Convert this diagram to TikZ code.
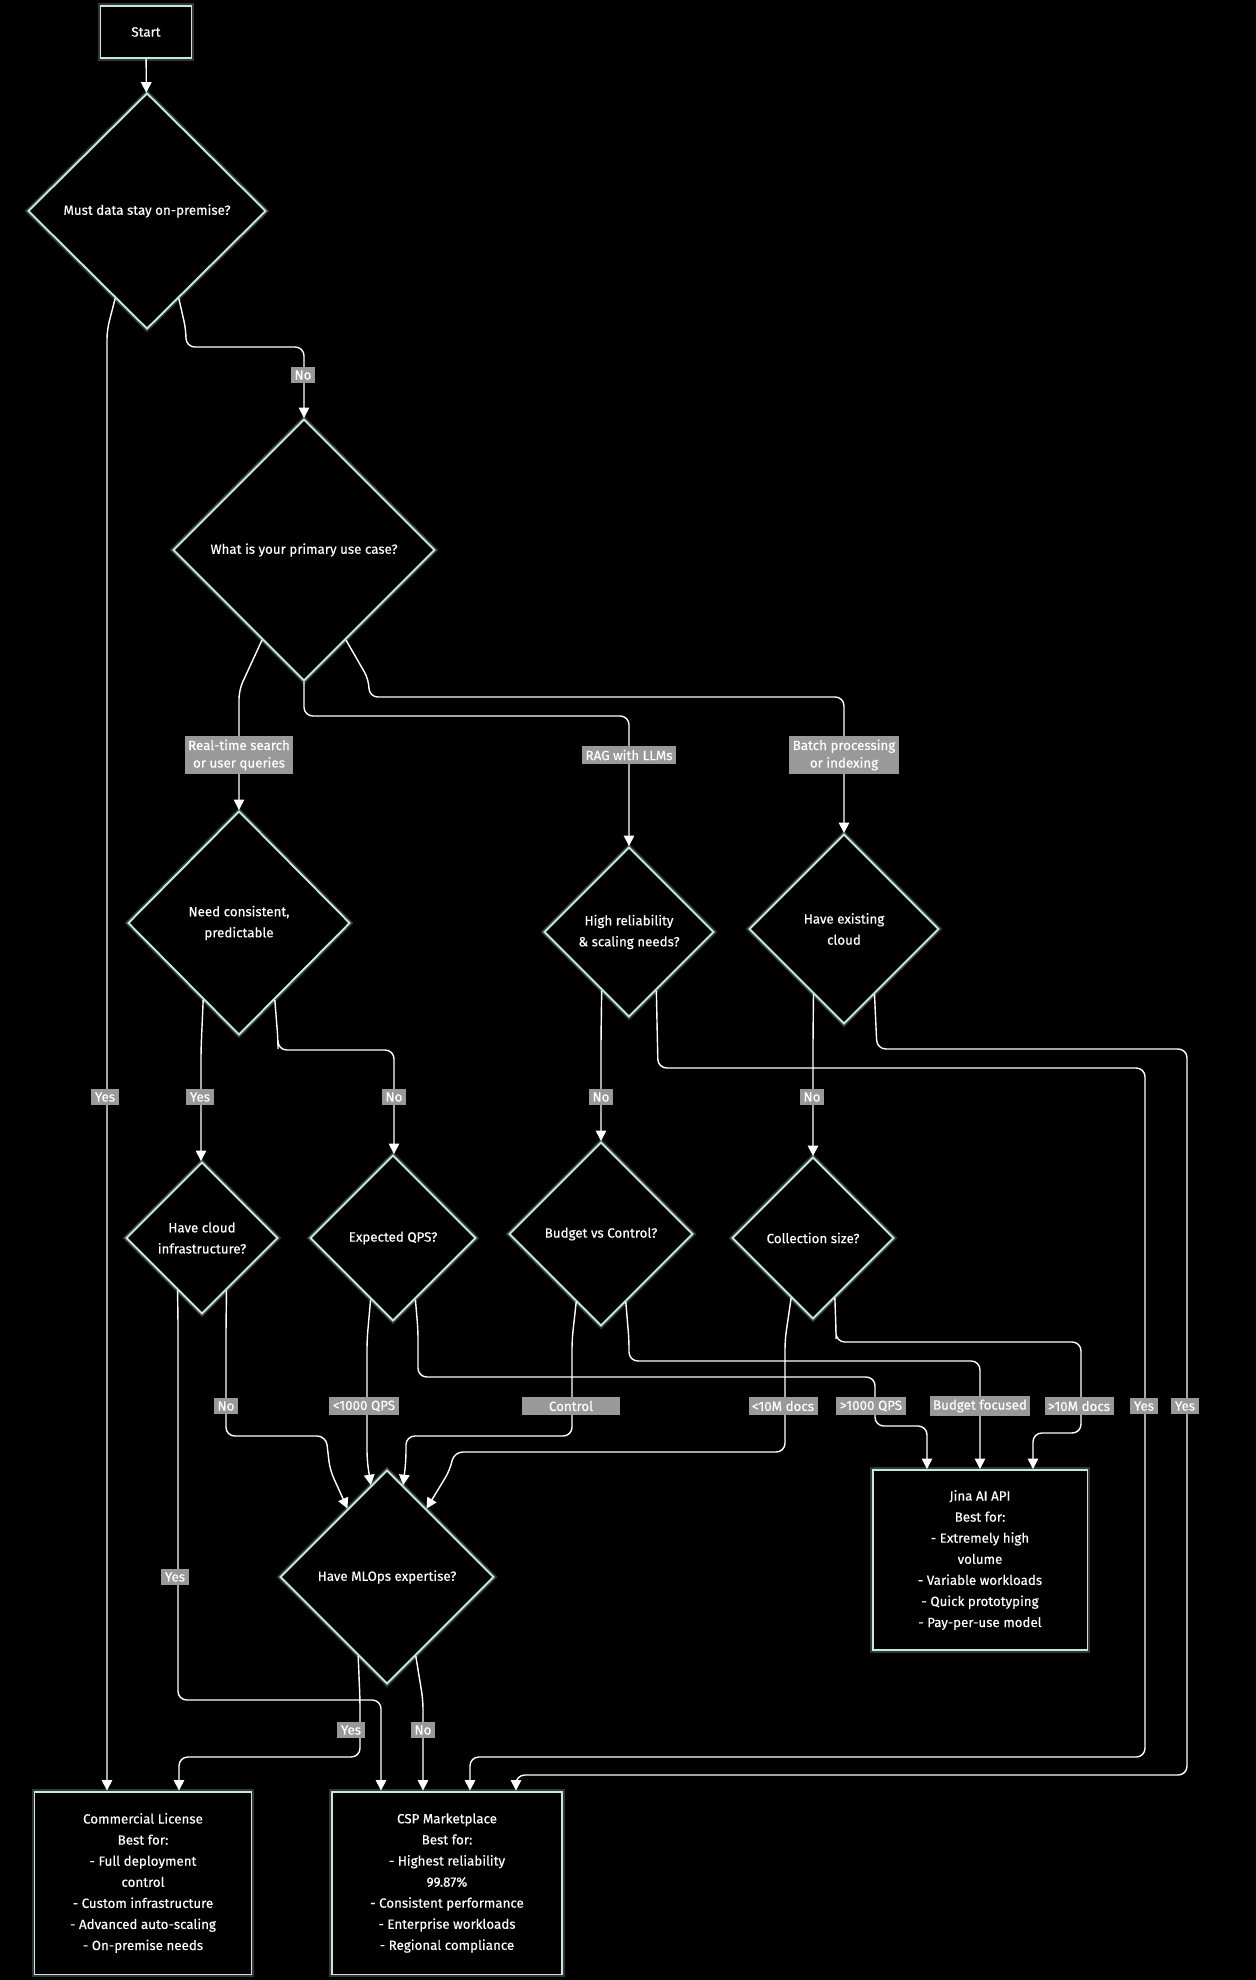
\documentclass[tikz,border=0pt]{standalone}
\usepackage{fontspec}
\setmainfont{Fira Sans}[FakeBold=0.35]
\usetikzlibrary{arrows.meta,shapes.geometric,positioning}
\tikzset{
  box/.style={rectangle, draw=yellow!30!cyan!35!white, line width=1.1pt,
    preaction={draw=gray!60, line width=3pt, opacity=0.3},
    fill=black, text=white, align=center, inner sep=0pt},
  dec/.style={diamond, aspect=1, draw=yellow!30!cyan!35!white, line width=1.1pt,
    preaction={draw=gray!60, line width=3pt, opacity=0.3},
    fill=black, text=white, align=center, inner sep=0pt},
  flow/.style={draw=white, line width=0.8pt, rounded corners=5pt,
    -{Triangle[width=6pt,length=6pt]}},
  lbl/.style={fill=black!40!white, text=white, inner sep=2pt, font=\fontsize{7.6}{10}\selectfont}
}
\begin{document}
\begin{tikzpicture}[x=0.02cm, y=-0.02cm, font=\fontsize{7.6}{12}\selectfont]
  % background
  \fill[black] (0,0) rectangle (1256,1980);
  \useasboundingbox (0,0) rectangle (1256,1980);

  % nodes
  \node[box, minimum width=1.82cm, minimum height=1.04cm] (start) at (146,32) {Start};
  \node[dec, minimum width=4.76cm, minimum height=4.72cm] (d1) at (147,211) {Must data stay on-premise?};
  \node[dec, minimum width=5.24cm, minimum height=5.24cm] (d2) at (304,550) {What is your primary use case?};
  \node[dec, minimum width=4.44cm, minimum height=4.48cm] (d3) at (239,923) {Need consistent,\\predictable};
  \node[dec, minimum width=3.4cm, minimum height=3.4cm] (d4) at (629,932) {High reliability\\\& scaling needs?};
  \node[dec, minimum width=3.8cm, minimum height=3.8cm] (d5) at (844,929) {Have existing\\cloud};
  \node[dec, minimum width=3.04cm, minimum height=3.04cm] (d6) at (202,1238) {Have cloud\\infrastructure?};
  \node[dec, minimum width=3.32cm, minimum height=3.32cm] (d7) at (393,1238) {Expected QPS?};
  \node[dec, minimum width=3.68cm, minimum height=3.68cm] (d8) at (601,1234) {Budget vs Control?};
  \node[dec, minimum width=3.24cm, minimum height=3.24cm] (d9) at (813,1238) {Collection size?};
  \node[dec, minimum width=4.28cm, minimum height=4.28cm] (d10) at (387,1577) {Have MLOps expertise?};
  \node[box, minimum width=4.3cm, minimum height=3.6cm] (jina) at (980,1560)
    {Jina AI API\\Best for:\\- Extremely high\\volume\\- Variable workloads\\- Quick prototyping\\- Pay-per-use model};
  \node[box, minimum width=4.34cm, minimum height=3.66cm] (comm) at (143,1883)
    {Commercial License\\Best for:\\- Full deployment\\control\\- Custom infrastructure\\- Advanced auto-scaling\\- On-premise needs};
  \node[box, minimum width=4.6cm, minimum height=3.66cm] (csp) at (447,1883)
    {CSP Marketplace\\Best for:\\- Highest reliability\\99.87\%\\- Consistent performance\\- Enterprise workloads\\- Regional compliance};

  % connectors
  \draw[flow] (start) -- (d1);
  \draw[flow] (d1.-110) -- (107,330) -- (107,330 |- comm.north);
  \draw[flow] (d1.-70) -- (186,330) -- (186,347) -- (304,347) -- (d2.north);
  \draw[flow] (d2.-115) -- (239,690) -- (239,690 |- d3.north);
  \draw[flow] (d2.south) -- (304,716) -- (629,716) -- (d4.north);
  \draw[flow] (d2.-65) -- (369,680) -- (369,697) -- (844,697) -- (d5.north);
  \draw[flow] (d3.-115) -- (201,1050) -- (201,1050 |- d6.north);
  \draw[flow] (d3.-65) -- (278,1040) -- (278,1050) -- (394,1050) -- (394,1050 |- d7.north);
  \draw[flow] (d4.-115) -- (601,1040) -- (d8.north);
  \draw[flow] (d4.-65) -- (658,1068) -- (1145,1068) -- (1145,1757) -- (470,1757) -- (470,1757 |- csp.north);
  \draw[flow] (d5.-115) -- (813,1040) -- (d9.north);
  \draw[flow] (d5.-65) -- (877,1049) -- (1187,1049) -- (1187,1775) -- (516,1775) -- (516,1775 |- csp.north);
  \draw[flow] (d6.-115) -- (178,1320) -- (178,1700) -- (381,1700) -- (381,1700 |- csp.north);
  \draw[flow] (d6.-65) -- (226,1330) -- (226,1436) -- (326,1436) -- (330,1470) -- (d10.120);
  \draw[flow] (d7.-110) -- (367,1340) -- (367,1460) -- (d10.100);
  \draw[flow] (d7.-70) -- (418,1330) -- (418,1377) -- (875,1377) -- (875,1426) -- (927,1426) -- (927,1426 |- jina.north);
  \draw[flow] (d8.-110) -- (572,1340) -- (572,1436) -- (406,1436) -- (406,1460) -- (d10.80);
  \draw[flow] (d8.-70) -- (629,1340) -- (629,1361) -- (980,1361) -- (jina.north);
  \draw[flow] (d9.-110) -- (785,1340) -- (785,1452) -- (454,1452) -- (450,1470) -- (d10.60);
  \draw[flow] (d9.-70) -- (836,1330) -- (836,1342) -- (1081,1342) -- (1081,1433) -- (1033,1433) -- (1033,1433 |- jina.north);
  \draw[flow] (d10.-110) -- (360,1700) -- (360,1757) -- (179,1757) -- (179,1757 |- comm.north);
  \draw[flow] (d10.-70) -- (423,1700) -- (423,1700 |- csp.north);

  % edge labels
  \node[lbl] (l1) at (303,375) {No};
  \node[lbl] (l2) at (105,1097) {Yes};
  \node[lbl, align=center] (l3) at (239,755) {Real-time search\\or user queries};
  \node[lbl] (l4) at (629,755) {RAG with LLMs};
  \node[lbl, align=center] (l5) at (844,755) {Batch processing\\or indexing};
  \node[lbl] (l6) at (200,1097) {Yes};
  \node[lbl] (l7) at (394,1097) {No};
  \node[lbl] (l8) at (601,1097) {No};
  \node[lbl] (l9) at (812,1097) {No};
  \node[lbl] (l10) at (1144,1406) {Yes};
  \node[lbl] (l11) at (1185,1406) {Yes};
  \node[lbl] (l12) at (226,1406) {No};
  \node[lbl] (l13) at (175,1577) {Yes};
  \node[lbl] (l14) at (364,1406) {<1000 QPS};
  \node[lbl] (l15) at (871,1406) {>1000 QPS};
  \node[lbl, minimum width=1.96cm] (l16) at (571,1406) {Control};
  \node[lbl] (l17) at (980,1406) {Budget focused};
  \node[lbl] (l18) at (783,1406) {<10M docs};
  \node[lbl] (l19) at (1079,1406) {>10M docs};
  \node[lbl] (l20) at (351,1730) {Yes};
  \node[lbl] (l21) at (423,1730) {No};
\end{tikzpicture}
\end{document}
